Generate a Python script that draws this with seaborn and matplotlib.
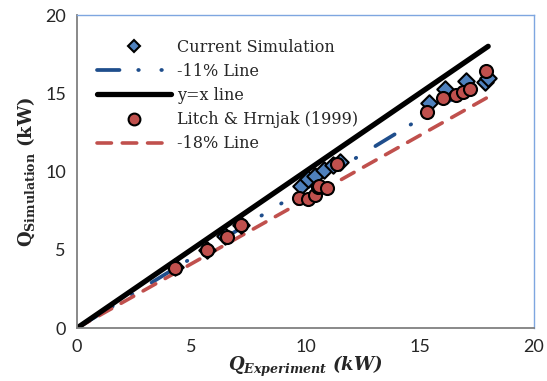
import matplotlib
matplotlib.use("Agg")
import matplotlib.pyplot as plt
import seaborn as sns
import pandas as pd
import numpy as np
from matplotlib.lines import Line2D

# ---- data ----
sim_x = [4.3, 5.7, 6.5, 7.2, 9.8, 10.1, 10.4, 10.8, 11.2, 11.5, 15.4, 16.1, 17.05, 17.85, 18.0]
sim_y = [3.9, 5.0, 5.9, 6.6, 9.1, 9.5, 9.7, 10.1, 10.4, 10.6, 14.4, 15.3, 15.8, 15.7, 16.0]

exp_x = [4.3, 5.7, 6.55, 7.2, 9.7, 10.1, 10.4, 10.55, 10.6, 10.95, 11.4, 15.3, 16.0, 16.6, 16.9, 17.2, 17.9]
exp_y = [3.85, 5.0, 5.8, 6.6, 8.3, 8.25, 8.5, 9.0, 9.1, 8.95, 10.45, 13.8, 14.7, 14.9, 15.1, 15.25, 16.4]

line_x = [0, 18]
yx_y = [0, 18]
m11_y = [0, 16.02]
m18_y = [0, 14.76]

xticks = [0, 5, 10, 15, 20]
yticks = [0, 5, 10, 15, 20]

sns.set_style("white")
plt.rcParams['font.family'] = ['Lato', 'DejaVu Sans']
plt.rcParams['mathtext.fontset'] = 'dejavuserif'

fig = plt.figure(figsize=(5.47, 3.81), dpi=100)
ax = fig.add_axes([0.1408, 0.139, 0.976 - 0.1408, 0.9606 - 0.139])

blue_m = "#4F81BD"
blue_l = "#1F4E8C"
red = "#C0504D"
d11 = [6.0, 5.0, 0.15, 6.0, 0.15, 6.0]
d18 = [4.0, 3.0]

sns.scatterplot(x=sim_x, y=sim_y, ax=ax, marker="D", s=70, color=blue_m,
                edgecolor="black", linewidth=1.5, zorder=3)
sns.lineplot(x=line_x, y=m11_y, ax=ax, color=blue_l, linewidth=2.7, zorder=2)
ln11 = ax.get_lines()[-1]
ln11.set_dashes(d11)
ln11.set_dash_capstyle("round")
sns.lineplot(x=line_x, y=yx_y, ax=ax, color="black", linewidth=3.8, zorder=2.5)
lnyx = ax.get_lines()[-1]
lnyx.set_solid_capstyle("round")
sns.lineplot(x=line_x, y=m18_y, ax=ax, color=red, linewidth=2.6, zorder=2)
ln18 = ax.get_lines()[-1]
ln18.set_dashes(d18)
ln18.set_dash_capstyle("round")
sns.scatterplot(x=exp_x, y=exp_y, ax=ax, marker="o", s=88, color=red,
                edgecolor="black", linewidth=1.5, zorder=4)

ax.set_xlim(0, 20)
ax.set_ylim(0, 20)
ax.set_xticks(xticks)
ax.set_yticks(yticks)
ax.tick_params(axis="both", length=0, labelsize=13, pad=8)

for s in ["left", "bottom"]:
    ax.spines[s].set_color("#808080")
    ax.spines[s].set_linewidth(1.3)
for s in ["top", "right"]:
    ax.spines[s].set_color("#7EA6E0")
    ax.spines[s].set_linewidth(1.0)

ax.set_ylabel(r"$\mathbf{Q}_{\mathbf{Simulation}}$ (kW)", fontsize=13, fontweight="bold",
              family="DejaVu Serif", labelpad=6)
ax.set_xlabel(r"$\mathbfit{Q}_{\mathbfit{Experiment}}$ (kW)", fontsize=13, fontweight="bold",
              fontstyle="italic", family="DejaVu Serif", labelpad=-1)

handles = [
    Line2D([], [], linestyle="none", marker="D", markersize=6.5, markerfacecolor=blue_m,
           markeredgecolor="black", markeredgewidth=1.5),
    Line2D([], [], color=blue_l, linewidth=2.7, dashes=d11, dash_capstyle="round"),
    Line2D([], [], color="black", linewidth=3.8, solid_capstyle="round"),
    Line2D([], [], linestyle="none", marker="o", markersize=8.5, markerfacecolor=red,
           markeredgecolor="black", markeredgewidth=1.5),
    Line2D([], [], color=red, linewidth=2.6, dashes=d18, dash_capstyle="round"),
]
labels = ["Current Simulation", "-11% Line", "y=x line", "Litch & Hrnjak (1999)", "-18% Line"]
leg = ax.legend(handles, labels, loc="upper left", bbox_to_anchor=(0.03, 0.945),
                frameon=False, prop={"family": "DejaVu Serif", "size": 11.5},
                handlelength=4.6, handletextpad=0.4, labelspacing=0.45, borderaxespad=0)

fig.savefig("out.png", dpi=100)
